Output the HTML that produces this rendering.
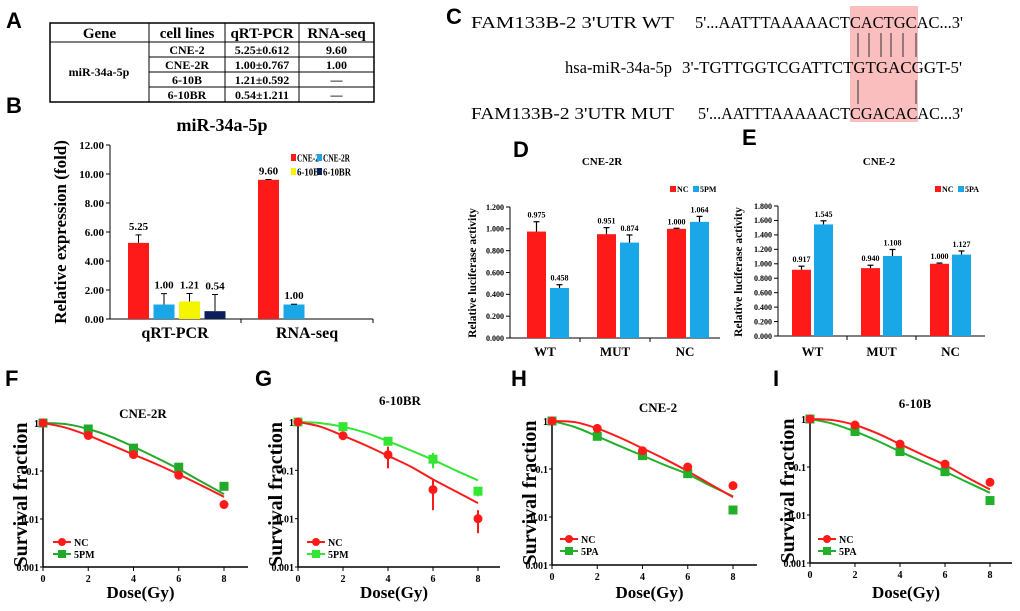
<!DOCTYPE html>
<html><head><meta charset="utf-8">
<style>
html,body{margin:0;padding:0;background:#fff;}
svg{display:block;font-family:"Liberation Serif",serif;font-weight:bold;}
.sans{font-family:"Liberation Sans",sans-serif;}
</style></head>
<body>
<svg id="fig" width="1020" height="611" viewBox="0 0 1020 611" xmlns="http://www.w3.org/2000/svg"></svg>
<script>
// ---------- data ----------
const bCategories = ["qRT-PCR", "RNA-seq"];
const bSeriesNames = ["CNE-2", "CNE-2R", "6-10B", "6-10BR"];
const bQrt = [5.25, 1.00, 1.21, 0.54];
const bQrtErr = [0.55, 0.75, 0.55, 1.15];
const bRna = [9.60, 1.00];
const bRnaErr = [0.02, 0.02];
const bTicks = ["0.00","2.00","4.00","6.00","8.00","10.00","12.00"];

const lucCategories = ["WT", "MUT", "NC"];
const dNC = [0.975, 0.951, 1.000];
const dNCErr = [0.09, 0.06, 0.005];
const d5PM = [0.458, 0.874, 1.064];
const d5PMErr = [0.03, 0.07, 0.05];
const dTicks = ["0.000","0.200","0.400","0.600","0.800","1.000","1.200"];
const eNC = [0.917, 0.940, 1.000];
const eNCErr = [0.05, 0.04, 0.01];
const e5PA = [1.545, 1.108, 1.127];
const e5PAErr = [0.05, 0.09, 0.05];
const eTicks = ["0.000","0.200","0.400","0.600","0.800","1.000","1.200","1.400","1.600","1.800"];

const doses = [0, 2, 4, 6, 8];
const curveDoses = [0, 1, 2, 3, 4, 5, 6, 7, 8];
const survTicks = ["1", "0.1", "0.01", "0.001"];
const fNC = [1, 0.55, 0.22, 0.082, 0.02];
const f5PM = [1, 0.75, 0.30, 0.12, 0.048];
const fNCcurve = [1, 0.8, 0.55, 0.35, 0.22, 0.14, 0.085, 0.05, 0.029];
const f5PMcurve = [1, 0.95, 0.75, 0.52, 0.32, 0.19, 0.11, 0.06, 0.033];
const gNC = [1, 0.52, 0.21, 0.04, 0.01];
const gNCErr = [0, 0.03, 0.1, 0.025, 0.005];
const g5PM = [1, 0.8, 0.40, 0.17, 0.037];
const g5PMErr = [0, 0.1, 0.03, 0.06, 0.008];
const gNCcurve = [1, 0.8, 0.52, 0.33, 0.2, 0.12, 0.065, 0.037, 0.021];
const g5PMcurve = [1, 0.95, 0.8, 0.6, 0.4, 0.26, 0.165, 0.1, 0.062];
const hNC = [1, 0.7, 0.24, 0.11, 0.045];
const h5PA = [1, 0.48, 0.19, 0.08, 0.014];
const hNCcurve = [1, 0.95, 0.7, 0.45, 0.27, 0.16, 0.09, 0.048, 0.026];
const h5PAcurve = [1, 0.75, 0.48, 0.3, 0.19, 0.12, 0.078, 0.045, 0.027];
const iNC = [1, 0.75, 0.30, 0.115, 0.048];
const i5PA = [1, 0.55, 0.21, 0.08, 0.02];
const iNCcurve = [1, 0.95, 0.75, 0.5, 0.3, 0.18, 0.11, 0.06, 0.034];
const i5PAcurve = [1, 0.8, 0.55, 0.35, 0.21, 0.13, 0.08, 0.048, 0.029];

// ---------- helpers ----------
const NS = "http://www.w3.org/2000/svg";
const svg = document.getElementById("fig");
function el(tag, attrs, parent) {
  const e = document.createElementNS(NS, tag);
  for (const k in attrs) e.setAttribute(k, attrs[k]);
  (parent || svg).appendChild(e);
  return e;
}
function txt(x, y, s, size, anchor, extra, parent) {
  const t = el("text", Object.assign({x: x, y: y, "font-size": size, "text-anchor": anchor || "middle", fill: "#000"}, extra || {}), parent);
  t.textContent = s;
  return t;
}
function group(parent) { return el("g", {}, parent); }

// ---------- panel letters ----------
const letters = [["A",6,28],["B",6,113],["C",446,24],["D",513,157],["E",742,145],["F",5,386],["G",255,386],["H",511,386],["I",773,386]];
for (const L of letters) {
  const t = txt(L[1], L[2], L[0], 22, "start", {class: "sans"});
  
  
}

// ---------- Panel A table ----------
const tbl = group();


const colX = [50, 149, 225, 299, 374];
const rowY = [23, 42, 57, 72, 87, 102];
el("rect", {x: 50, y: 23, width: 324, height: 79, fill: "none", stroke: "#000", "stroke-width": 1.5}, tbl);
for (let i = 1; i < 4; i++) el("line", {x1: colX[i], y1: 23, x2: colX[i], y2: 102, stroke: "#000"}, tbl);
el("line", {x1: 50, y1: 42, x2: 374, y2: 42, stroke: "#000"}, tbl);
for (let r = 2; r < 5; r++) el("line", {x1: 149, y1: rowY[r], x2: 374, y2: rowY[r], stroke: "#000"}, tbl);
const head = ["Gene", "cell lines", "qRT-PCR", "RNA-seq"];
for (let i = 0; i < 4; i++) txt((colX[i] + colX[i+1]) / 2, 38, head[i], 15, "middle", {}, tbl);
txt(99, 76, "miR-34a-5p", 12, "middle", {}, tbl);
const tRows = [["CNE-2","5.25±0.612","9.60"],["CNE-2R","1.00±0.767","1.00"],["6-10B","1.21±0.592","—"],["6-10BR","0.54±1.211","—"]];
for (let r = 0; r < 4; r++) {
  for (let c = 0; c < 3; c++) txt((colX[c+1] + colX[c+2]) / 2, rowY[r+1] + 12, tRows[r][c], 12, "middle", {}, tbl);
}

// ---------- Panel C sequences ----------
const seq = group();


el("rect", {x: 850, y: 6, width: 68, height: 116, fill: "#f9b3b3", opacity: 0.85}, seq);
const fit = {"font-weight": "normal", lengthAdjust: "spacingAndGlyphs"};
txt(471, 28, "FAM133B-2   3'UTR  WT", 17, "start", Object.assign({textLength: 203, "xml:space": "preserve"}, fit), seq);
txt(695, 28, "5'...AATTTAAAAACTCACTGCAC...3'", 17, "start", Object.assign({textLength: 268}, fit), seq);
txt(565, 73, "hsa-miR-34a-5p", 17, "start", Object.assign({textLength: 107}, fit), seq);
txt(682, 73, "3'-TGTTGGTCGATTCTGTGACGGT-5'", 17, "start", Object.assign({textLength: 280}, fit), seq);
txt(471, 119, "FAM133B-2  3'UTR MUT", 17, "start", Object.assign({textLength: 203, "xml:space": "preserve"}, fit), seq);
txt(698, 119, "5'...AATTTAAAAACTCGACACAC...3'", 17, "start", Object.assign({textLength: 265}, fit), seq);
for (const x of [858, 869, 881, 891, 903, 916]) el("line", {x1: x, y1: 33, x2: x, y2: 57, stroke: "#333"}, seq);
for (const x of [858, 916]) el("line", {x1: x, y1: 80, x2: x, y2: 104, stroke: "#333"}, seq);

// ---------- generic bar chart ----------
function barChart(g, opt, cats, series, errs, colors, ticks, tmax, fmt) {
  const ys = v => opt.y0 - v / tmax * (opt.y0 - opt.yTop);
  el("line", {x1: opt.x0, y1: opt.yTop, x2: opt.x0, y2: opt.y0, stroke: "#000"}, g);
  el("line", {x1: opt.x0, y1: opt.y0, x2: opt.x1, y2: opt.y0, stroke: "#000"}, g);
  ticks.forEach((t, i) => {
    const v = i * tmax / (ticks.length - 1);
    el("line", {x1: opt.x0 - 4, y1: ys(v), x2: opt.x0, y2: ys(v), stroke: "#000"}, g);
    txt(opt.x0 - 6, ys(v) + opt.tickFs * 0.35, t, opt.tickFs, "end", {}, g);
  });
  const cw = (opt.x1 - opt.x0) / cats.length;
  cats.forEach((c, ci) => {
    if (ci > 0) el("line", {x1: opt.x0 + ci * cw, y1: opt.y0, x2: opt.x0 + ci * cw, y2: opt.y0 + 4, stroke: "#000"}, g);
    txt(opt.x0 + (ci + 0.5) * cw, opt.catY, c, opt.catFs, "middle", {}, g);
    series.forEach((s, si) => {
      const v = s[ci];
      if (v === undefined) return;
      const bx = opt.x0 + ci * cw + opt.pad + si * (opt.bw + opt.gap);
      const b = el("rect", {x: bx, y: ys(v), width: opt.bw, height: opt.y0 - ys(v), fill: colors[si]}, g);
      
      
      const e = errs[si][ci];
      const cx = bx + opt.bw / 2;
      el("line", {x1: cx, y1: ys(v), x2: cx, y2: ys(v + e), stroke: "#000", "stroke-width": 1.2}, g);
      el("line", {x1: cx - 3, y1: ys(v + e), x2: cx + 3, y2: ys(v + e), stroke: "#000", "stroke-width": 1.2}, g);
      txt(cx, ys(v + e) - 4, fmt(v), opt.valFs, "middle", {}, g);
    });
  });
}

// Panel B
const gB = group();


txt(222, 131, "miR-34a-5p", 18, "middle", {}, gB);
txt(0, 0, "Relative expression (fold)", 17, "middle", {transform: "translate(66,232) rotate(-90)"}, gB);
{
  const ys = v => 319 - v / 12 * 174;
  el("line", {x1: 110, y1: 145, x2: 110, y2: 319, stroke: "#000"}, gB);
  el("line", {x1: 110, y1: 319, x2: 373, y2: 319, stroke: "#000"}, gB);
  bTicks.forEach((t, i) => {
    el("line", {x1: 106, y1: ys(i * 2), x2: 110, y2: ys(i * 2), stroke: "#000"}, gB);
    txt(104, ys(i * 2) + 4, t, 11, "end", {}, gB);
  });
  el("line", {x1: 241, y1: 319, x2: 241, y2: 323, stroke: "#000"}, gB);
  el("line", {x1: 373, y1: 319, x2: 373, y2: 323, stroke: "#000"}, gB);
  txt(175, 338, bCategories[0], 16, "middle", {}, gB);
  txt(307, 338, bCategories[1], 16, "middle", {}, gB);
  const colsB = ["#ff1a1a", "#1aa7e8", "#f5f500", "#0c1f5c"];
  const groups = [[bQrt, bQrtErr, 128], [bRna, bRnaErr, 258]];
  groups.forEach((G, gi) => {
    G[0].forEach((v, si) => {
      const bx = G[2] + si * 25.5, bw = 21;
      const b = el("rect", {x: bx, y: ys(v), width: bw, height: 319 - ys(v), fill: colsB[si]}, gB);
      
      
      const cx = bx + bw / 2, e = G[1][si];
      el("line", {x1: cx, y1: ys(v), x2: cx, y2: ys(v + e), stroke: "#000"}, gB);
      el("line", {x1: cx - 3, y1: ys(v + e), x2: cx + 3, y2: ys(v + e), stroke: "#000"}, gB);
      txt(cx, ys(v + e) - 5, v.toFixed(2), 11, "middle", {}, gB);
    });
  });
  const legB = [[291, 159, 22], [317, 159, 27], [291, 173, 22], [317, 173, 28]];
  legB.forEach((p, i) => {
    const lg = group(gB);
    
    
    el("rect", {x: p[0], y: p[1] - 5, width: 5, height: 7, fill: colsB[i]}, lg);
    txt(p[0] + 6, p[1] + 2.5, bSeriesNames[i], 10, "start", {textLength: p[2], lengthAdjust: "spacingAndGlyphs"}, lg);
  });
}

// Panel D
const gD = group();


txt(602, 165, "CNE-2R", 11, "middle", {}, gD);
txt(0, 0, "Relative luciferase activity", 11.5, "middle", {transform: "translate(476,273) rotate(-90)"}, gD);
barChart(gD, {x0: 510, x1: 720, y0: 338, yTop: 207, pad: 17, bw: 19, gap: 4, tickFs: 8, catY: 356, catFs: 13, valFs: 8}, lucCategories, [dNC, d5PM], [dNCErr, d5PMErr], ["#ff1a1a", "#1aa7e8"], dTicks, 1.2, v => v.toFixed(3));
[["NC", 670, "#ff1a1a"], ["5PM", 693, "#1aa7e8"]].forEach(l => {
  const lg = group(gD);
  
  
  el("rect", {x: l[1], y: 186, width: 6, height: 6, fill: l[2]}, lg);
  txt(l[1] + 7, 192, l[0], 8, "start", {}, lg);
});

// Panel E
const gE = group();


txt(879, 165, "CNE-2", 11, "middle", {}, gE);
txt(0, 0, "Relative luciferase activity", 11.5, "middle", {transform: "translate(742,272) rotate(-90)"}, gE);
barChart(gE, {x0: 778, x1: 985, y0: 336, yTop: 206, pad: 14, bw: 19, gap: 3, tickFs: 8, catY: 356, catFs: 13, valFs: 8}, lucCategories, [eNC, e5PA], [eNCErr, e5PAErr], ["#ff1a1a", "#1aa7e8"], eTicks, 1.8, v => v.toFixed(3));
[["NC", 935, "#ff1a1a"], ["5PA", 958, "#1aa7e8"]].forEach(l => {
  const lg = group(gE);
  
  
  el("rect", {x: l[1], y: 186, width: 6, height: 6, fill: l[2]}, lg);
  txt(l[1] + 7, 192, l[0], 8, "start", {}, lg);
});

// ---------- survival charts ----------
function catmull(pts) {
  let d = "M" + pts[0][0] + "," + pts[0][1];
  for (let i = 0; i < pts.length - 1; i++) {
    const p0 = pts[i - 1] || pts[i], p1 = pts[i], p2 = pts[i + 1], p3 = pts[i + 2] || p2;
    const c1 = [p1[0] + (p2[0] - p0[0]) / 6, p1[1] + (p2[1] - p0[1]) / 6];
    const c2 = [p2[0] - (p3[0] - p1[0]) / 6, p2[1] - (p3[1] - p1[1]) / 6];
    d += " C" + c1 + " " + c2 + " " + p2;
  }
  return d;
}
function survChart(name, o, title, labA, labB, colA, colB, ptsA, ptsB, crvA, crvB, errA, errB) {
  const g = group();
  
  
  const xs = d => o.x0 + d / 8 * (o.x8 - o.x0);
  const ys = v => o.y1 + (-Math.log10(v)) / 3 * (o.y3 - o.y1);
  txt(o.tx, o.ty, title, 13, "middle", {}, g);
  txt(0, 0, "Survival fraction", 20, "middle", {transform: "translate(" + (o.x0 - 16) + "," + ((o.y1 + o.y3) / 2) + ") rotate(-90)"}, g);
  txt((o.x0 + o.xe) / 2 - 5, 598, "Dose(Gy)", 17, "middle", {}, g);
  el("line", {x1: o.x0, y1: o.y1 - 4, x2: o.x0, y2: o.y3, stroke: "#000", "stroke-width": 1.5}, g);
  el("line", {x1: o.x0, y1: o.y3, x2: o.xe, y2: o.y3, stroke: "#000", "stroke-width": 1.5}, g);
  survTicks.forEach(t => {
    const v = parseFloat(t);
    el("line", {x1: o.x0 - 3, y1: ys(v), x2: o.x0, y2: ys(v), stroke: "#000"}, g);
    txt(o.x0 - 4, ys(v) + 4, t, 10, "end", {}, g);
  });
  doses.forEach(d => {
    el("line", {x1: xs(d), y1: o.y3, x2: xs(d), y2: o.y3 + 4, stroke: "#000"}, g);
    txt(xs(d), o.y3 + 15, String(d), 10, "middle", {}, g);
  });
  const lineB = el("path", {d: catmull(curveDoses.map((d, i) => [xs(d), ys(crvB[i])])), fill: "none", stroke: colB, "stroke-width": 2}, g);
  
  
  const lineA = el("path", {d: catmull(curveDoses.map((d, i) => [xs(d), ys(crvA[i])])), fill: "none", stroke: colA, "stroke-width": 2}, g);
  
  
  doses.forEach((d, i) => {
    if (errB) {
      const e = errB[i];
      if (e > 0) el("line", {x1: xs(d), y1: ys(ptsB[i] + e), x2: xs(d), y2: ys(Math.max(ptsB[i] - e, 1e-4)), stroke: colB, "stroke-width": 2}, g);
    }
    const s = el("rect", {x: xs(d) - 4.5, y: ys(ptsB[i]) - 4.5, width: 9, height: 9, fill: colB}, g);
    
    
  });
  doses.forEach((d, i) => {
    if (errA) {
      const e = errA[i];
      if (e > 0) el("line", {x1: xs(d), y1: ys(ptsA[i] + e), x2: xs(d), y2: ys(Math.max(ptsA[i] - e, 1e-4)), stroke: colA, "stroke-width": 2}, g);
    }
    const c = el("circle", {cx: xs(d), cy: ys(ptsA[i]), r: 4.5, fill: colA}, g);
    
    
  });
  [[labA, colA, o.ly, "c"], [labB, colB, o.ly + 12, "s"]].forEach(l => {
    const lg = group(g);
    
    
    el("line", {x1: o.lx, y1: l[2], x2: o.lx + 18, y2: l[2], stroke: l[1], "stroke-width": 2}, lg);
    if (l[3] === "c") el("circle", {cx: o.lx + 9, cy: l[2], r: 4, fill: l[1]}, lg);
    else el("rect", {x: o.lx + 5, y: l[2] - 4, width: 8, height: 8, fill: l[1]}, lg);
    txt(o.lx + 21, l[2] + 4, l[0], 10, "start", {}, lg);
  });
}
survChart("survival-cne2r-chart", {x0: 43, x8: 224, xe: 248, y1: 423, y3: 567, tx: 143, ty: 418, lx: 53, ly: 542}, "CNE-2R", "NC", "5PM", "#ff1a1a", "#22a82a", fNC, f5PM, fNCcurve, f5PMcurve, null, null);
survChart("survival-6-10br-chart", {x0: 298, x8: 478, xe: 500, y1: 422, y3: 567, tx: 400, ty: 405, lx: 307, ly: 542}, "6-10BR", "NC", "5PM", "#ff1a1a", "#33e633", gNC, g5PM, gNCcurve, g5PMcurve, gNCErr, g5PMErr);
survChart("survival-cne2-chart", {x0: 552, x8: 733, xe: 757, y1: 421, y3: 565, tx: 658, ty: 412, lx: 560, ly: 539}, "CNE-2", "NC", "5PA", "#ff1a1a", "#22b02a", hNC, h5PA, hNCcurve, h5PAcurve, null, null);
survChart("survival-6-10b-chart", {x0: 810, x8: 990, xe: 1012, y1: 419, y3: 563, tx: 915, ty: 408, lx: 818, ly: 539}, "6-10B", "NC", "5PA", "#ff1a1a", "#22b02a", iNC, i5PA, iNCcurve, i5PAcurve, null, null);
</script>
</body></html>
